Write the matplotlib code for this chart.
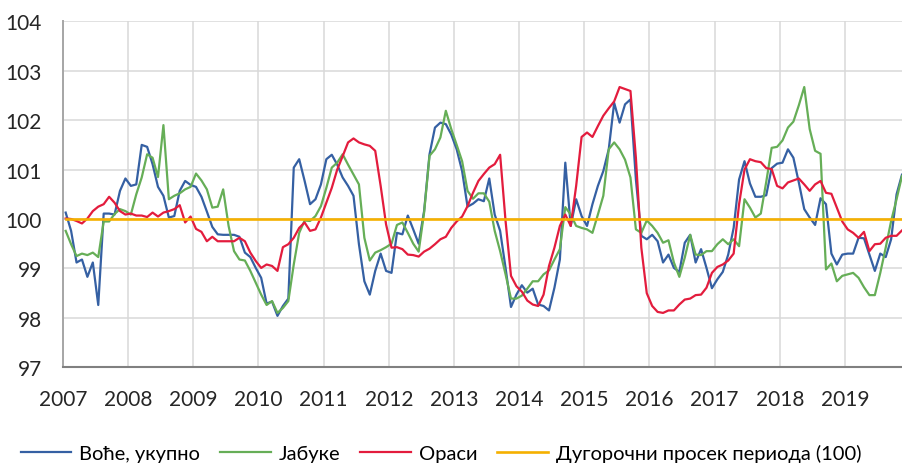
import numpy as np
import matplotlib
matplotlib.use("Agg")
import matplotlib.pyplot as plt

# Monthly indices, Jan 2007 - Dec 2019
years = [str(y) for y in range(2007, 2020)]

fruit_total = [
    100.13, 99.76, 99.12, 99.18, 98.83, 99.12, 98.26, 100.11, 100.11, 100.09, 100.57, 100.82,
    100.67, 100.70, 101.50, 101.46, 101.11, 100.65, 100.47, 100.03, 100.06, 100.57, 100.77, 100.69,
    100.65, 100.45, 100.15, 99.84, 99.69, 99.68, 99.68, 99.68, 99.64, 99.32, 99.23, 99.01,
    98.81, 98.29, 98.33, 98.04, 98.24, 98.39, 101.04, 101.21, 100.77, 100.30, 100.40, 100.70,
    101.21, 101.30, 101.10, 100.84, 100.67, 100.47, 99.49, 98.74, 98.47, 98.95, 99.30, 98.95,
    98.91, 99.72, 99.69, 100.07, 99.79, 99.50, 100.16, 101.31, 101.85, 101.95, 101.92, 101.71,
    101.41, 100.97, 100.25, 100.31, 100.40, 100.36, 100.82, 100.09, 99.76, 99.01, 98.22, 98.47,
    98.66, 98.51, 98.59, 98.27, 98.24, 98.15, 98.61, 99.18, 101.14, 99.86, 100.40, 100.06,
    99.86, 100.30, 100.67, 100.97, 101.41, 102.35, 101.95, 102.32, 102.42, 100.80, 99.66, 99.59,
    99.68, 99.55, 99.12, 99.28, 99.01, 98.93, 99.52, 99.68, 99.12, 99.39, 99.01, 98.60,
    98.78, 98.93, 99.28, 99.82, 100.80, 101.17, 100.72, 100.45, 100.45, 100.48, 101.03, 101.12,
    101.14, 101.41, 101.24, 100.74, 100.20, 100.03, 99.88, 100.42, 100.30, 99.30, 99.08, 99.28,
    99.30, 99.30, 99.62, 99.61, 99.28, 98.95, 99.30, 99.23, 99.59, 100.50, 100.90, 101.00,
]

apples = [
    99.76, 99.49, 99.25, 99.30, 99.27, 99.32, 99.23, 99.95, 99.95, 100.10, 100.20, 100.16,
    100.09, 100.50, 100.84, 101.31, 101.24, 100.85, 101.90, 100.40, 100.47, 100.52, 100.60, 100.65,
    100.92, 100.78, 100.60, 100.23, 100.25, 100.60, 99.86, 99.35, 99.18, 99.16, 98.95, 98.71,
    98.47, 98.26, 98.34, 98.10, 98.20, 98.34, 99.08, 99.72, 99.97, 99.96, 100.06, 100.26,
    100.63, 101.04, 101.14, 101.31, 101.10, 100.90, 100.70, 99.62, 99.16, 99.32, 99.37, 99.43,
    99.50, 99.88, 99.93, 99.72, 99.50, 99.34, 100.13, 101.28, 101.41, 101.65, 102.19, 101.82,
    101.50, 101.17, 100.57, 100.41, 100.52, 100.52, 100.35, 99.76, 99.35, 98.88, 98.39, 98.39,
    98.45, 98.59, 98.74, 98.74, 98.88, 98.96, 99.18, 99.39, 100.24, 100.09, 99.86, 99.82,
    99.79, 99.72, 100.09, 100.47, 101.41, 101.55, 101.41, 101.20, 100.84, 99.79, 99.72, 99.97,
    99.86, 99.72, 99.52, 99.57, 99.12, 98.83, 99.22, 99.68, 99.28, 99.27, 99.35, 99.35,
    99.49, 99.59, 99.49, 99.59, 99.45, 100.40, 100.23, 100.03, 100.11, 100.75, 101.44, 101.46,
    101.59, 101.85, 101.97, 102.30, 102.67, 101.82, 101.38, 101.32, 98.98, 99.10, 98.74, 98.85,
    98.88, 98.91, 98.81, 98.62, 98.46, 98.46, 98.91, 99.42, 99.96, 100.40, 100.87, 101.00,
]

walnuts = [
    100.01, 100.00, 99.96, 99.91, 100.01, 100.16, 100.25, 100.30, 100.45, 100.33, 100.16, 100.09,
    100.11, 100.07, 100.07, 100.04, 100.13, 100.05, 100.13, 100.16, 100.20, 100.28, 99.93, 100.05,
    99.80, 99.74, 99.55, 99.64, 99.55, 99.55, 99.55, 99.55, 99.62, 99.55, 99.32, 99.15,
    99.01, 99.08, 99.05, 98.95, 99.43, 99.49, 99.62, 99.82, 99.93, 99.76, 99.79, 100.03,
    100.33, 100.63, 101.00, 101.27, 101.55, 101.63, 101.55, 101.51, 101.48, 101.38, 100.67, 99.89,
    99.42, 99.43, 99.39, 99.28, 99.27, 99.24, 99.34, 99.40, 99.49, 99.59, 99.64, 99.82,
    99.95, 100.05, 100.26, 100.53, 100.77, 100.91, 101.04, 101.11, 101.30, 99.96, 98.85, 98.64,
    98.53, 98.35, 98.27, 98.24, 98.47, 99.05, 99.42, 99.86, 100.09, 99.86, 100.67, 101.66,
    101.75, 101.66, 101.88, 102.09, 102.24, 102.38, 102.67, 102.63, 102.59, 101.24, 99.42, 98.50,
    98.24, 98.12, 98.10, 98.15, 98.15, 98.27, 98.37, 98.39, 98.46, 98.47, 98.61, 98.91,
    99.03, 99.08, 99.16, 99.30, 100.30, 101.00, 101.21, 101.17, 101.15, 101.03, 101.01, 100.67,
    100.62, 100.74, 100.78, 100.82, 100.70, 100.57, 100.70, 100.77, 100.53, 100.51, 100.23, 99.95,
    99.79, 99.72, 99.62, 99.74, 99.35, 99.49, 99.50, 99.62, 99.66, 99.66, 99.77, 99.85,
]

long_term_avg = 100

labels = ["Воће, укупно", "Јабуке", "Ораси", "Дугорочни просек периода (100)"]
colors = ["#3560A3", "#66AE57", "#E31C3D", "#F5B000"]

plt.rcParams["font.family"] = ["Lato", "Open Sans", "DejaVu Sans"]

fig = plt.figure(figsize=(9.02, 4.64), dpi=100)
ax = fig.add_axes([0.0698, 0.2063, 0.9302, 0.7456])

months = np.arange(len(fruit_total))
ax.plot(months, fruit_total, color=colors[0], lw=1.6, label=labels[0])
ax.plot(months, apples, color=colors[1], lw=1.6, label=labels[1])
ax.plot(months, walnuts, color=colors[2], lw=1.6, label=labels[2])
ax.plot(months, np.full(len(months), long_term_avg), color=colors[3], lw=1.9,
        label=labels[3])

# Axes
ax.set_xlim(-0.5, 154.0)
ax.set_ylim(97, 104)
ax.set_yticks(range(97, 105))
ax.set_xticks(np.arange(len(years)) * 12 - 0.5)
ax.set_xticklabels(years)
ax.tick_params(axis="both", length=0, labelsize=15, colors="#262626")
ax.tick_params(axis="y", pad=15)
ax.tick_params(axis="x", pad=16)

ax.grid(True, color="#D9D9D9", lw=1.1)
ax.set_axisbelow(True)
for side in ("top", "right"):
    ax.spines[side].set_visible(False)
ax.spines["left"].set_color("#A6A6A6")
ax.spines["left"].set_linewidth(1.4)
ax.spines["bottom"].set_color("#808080")
ax.spines["bottom"].set_linewidth(1.5)

# Legend
fig.legend(loc="center", bbox_to_anchor=(0.489, 0.022), ncol=4, frameon=False,
           fontsize=14.5, handlelength=2.5, handletextpad=0.4, columnspacing=1.0)

fig.savefig("out.png", dpi=100)
plt.close(fig)
